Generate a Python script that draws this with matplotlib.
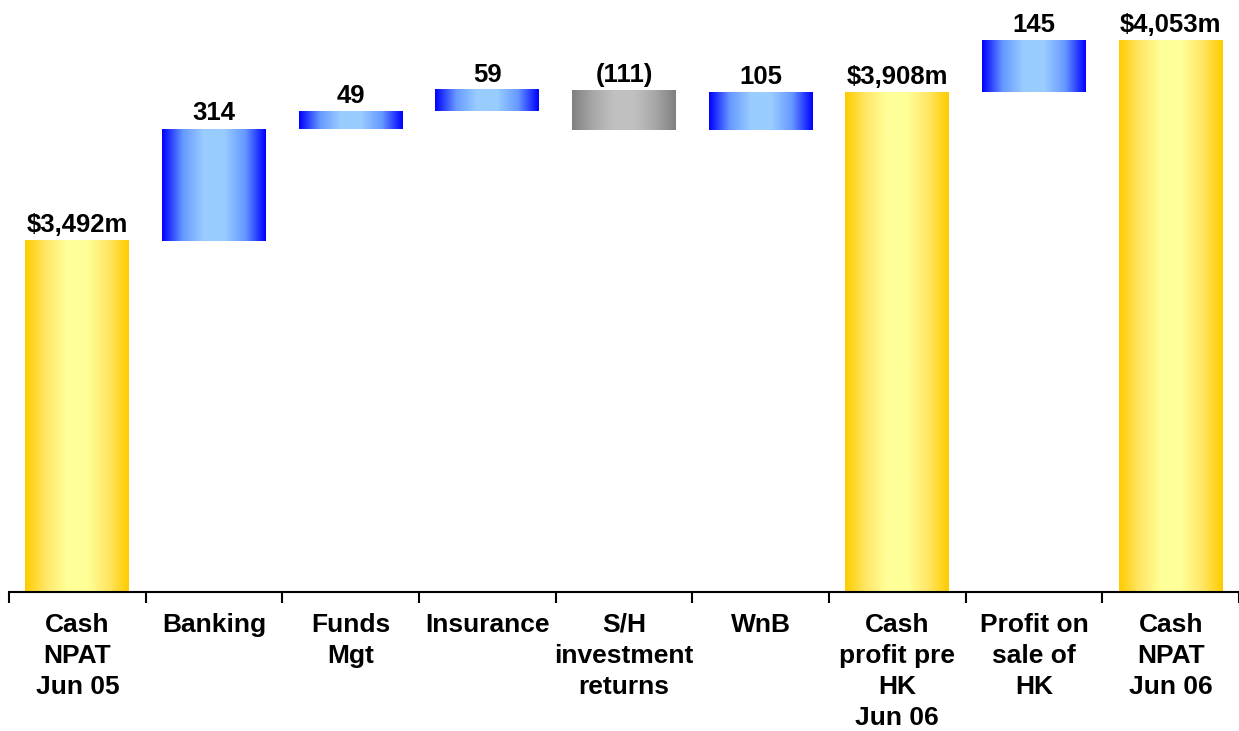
import numpy as np
import matplotlib.pyplot as plt
from matplotlib.colors import LinearSegmentedColormap

categories = ["Cash\nNPAT\nJun 05", "Banking", "Funds\nMgt", "Insurance",
              "S/H\ninvestment\nreturns", "WnB", "Cash\nprofit pre\nHK\nJun 06",
              "Profit on\nsale of\nHK", "Cash\nNPAT\nJun 06"]
values = [3492, 314, 49, 59, -111, 105, 3908, 145, 4053]
kinds = ["total", "delta", "delta", "delta", "delta", "delta", "total", "delta", "total"]
value_labels = ["$3,492m", "314", "49", "59", "(111)", "105", "$3,908m", "145", "$4,053m"]

BASE = 2506

plt.rcParams['font.family'] = ['Liberation Sans', 'DejaVu Sans']

gold = LinearSegmentedColormap.from_list("gold", ["#FFCC00", "#FFE766", "#FFFF99", "#FFFF99", "#FFE766", "#FFCC00"])
blue = LinearSegmentedColormap.from_list("blue", ["#0000FF", "#6699FF", "#99CCFF", "#99CCFF", "#6699FF", "#0000FF"])
grey = LinearSegmentedColormap.from_list("grey", ["#808080", "#A8A8A8", "#C0C0C0", "#C0C0C0", "#A8A8A8", "#808080"])

fig = plt.figure(figsize=(12.39, 7.31), dpi=100)
ax = fig.add_axes([9 / 1239, 1 - 592 / 731, 1 - 9 / 1239, 592 / 731])

grad = np.linspace(0, 1, 256).reshape(1, -1)
width = 0.76
running = 0
for i, (v, k) in enumerate(zip(values, kinds)):
    if k == "total":
        lo, hi = BASE, v
        running = v
        cmap = gold
    else:
        lo, hi = sorted([running, running + v])
        running += v
        cmap = blue if v > 0 else grey
    ax.imshow(grad, cmap=cmap, aspect='auto', interpolation='bilinear',
              extent=[i - width / 2, i + width / 2, lo, hi], zorder=2)
    ax.annotate(value_labels[i], (i, hi), xytext=(0, 6), textcoords='offset points',
                ha='center', va='baseline', fontsize=18.5, fontweight='bold')

ax.set_xlim(-0.5, len(values) - 0.5)
ax.set_ylim(BASE, 4167)
for s in ["top", "right", "left"]:
    ax.spines[s].set_visible(False)
ax.spines["bottom"].set_linewidth(1.5)
ax.set_yticks([])
ax.set_xticks(range(len(values)))
ax.set_xticklabels(categories, fontsize=19, fontweight='bold', linespacing=1.38, va='top')
ax.tick_params(axis='x', which='major', length=0, pad=15)
ax.set_xticks(np.arange(-0.5, len(values), 1.0), minor=True)
ax.tick_params(axis='x', which='minor', length=8, width=1.5, direction='out')

fig.savefig("out.png", dpi=100)
